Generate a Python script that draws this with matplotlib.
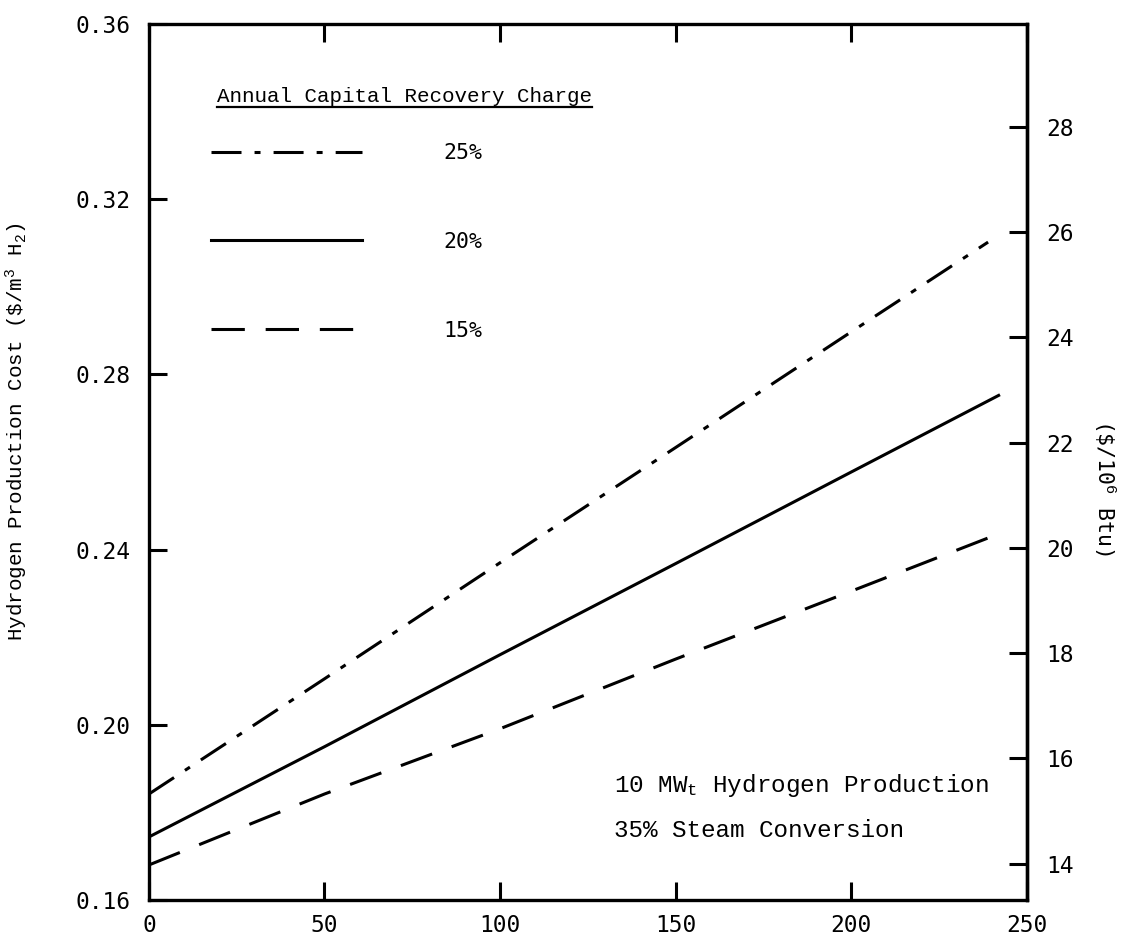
"""Hydrogen production cost vs. x for three capital recovery charges."""

import matplotlib

matplotlib.use("Agg")
import matplotlib.pyplot as plt
from matplotlib.lines import Line2D

plt.rcParams["lines.scale_dashes"] = False
plt.rcParams["mathtext.fontset"] = "custom"
plt.rcParams["mathtext.rm"] = "Liberation Mono"
plt.rcParams["mathtext.it"] = "Liberation Mono"
plt.rcParams["mathtext.default"] = "rm"

# data
x_25 = [0, 50, 100, 150, 200, 239]
cost_25 = [0.1842, 0.2105, 0.2370, 0.2633, 0.2897, 0.3102]
x_20 = [0, 50, 100, 150, 200, 242]
cost_20 = [0.1744, 0.1950, 0.2160, 0.2368, 0.2577, 0.2752]
x_15 = [0, 50, 100, 150, 200, 243]
cost_15 = [0.1680, 0.1842, 0.1991, 0.2150, 0.2305, 0.2439]

labels = ["25%", "20%", "15%"]
x_ticks = [0, 50, 100, 150, 200, 250]
left_ticks = [0.16, 0.20, 0.24, 0.28, 0.32, 0.36]
right_ticks = [14, 16, 18, 20, 22, 24, 26, 28]
M3_TO_MBTU = 83.2  # ($/10^6 Btu) per ($/m^3)

serif = "Liberation Mono"
mono = "DejaVu Sans Mono"
tick_fs = 16.5

fig = plt.figure(figsize=(11.37, 9.44), dpi=100)
ax = fig.add_axes([0.131, 0.0466, 0.772, 0.928])

ax.plot(x_25, cost_25, color="black", lw=2.2, dashes=(21.6, 9.4, 4.3, 9.4),
        dash_capstyle="butt", label=labels[0])
ax.plot(x_20, cost_20, color="black", lw=2.2, label=labels[1])
ax.plot(x_15, cost_15, color="black", lw=2.2, dashes=(24, 15),
        dash_capstyle="butt", label=labels[2])

ax.set_xlim(0, 250)
ax.set_ylim(0.16, 0.36)
ax.set_xticks(x_ticks)
ax.set_xticklabels([str(t) for t in x_ticks], family=mono, fontsize=tick_fs)
ax.set_yticks(left_ticks)
ax.set_yticklabels([f"{t:.2f}" for t in left_ticks], family=mono, fontsize=tick_fs)
ax.tick_params(axis="x", direction="in", length=13, width=2.2, top=True, pad=10)
ax.tick_params(axis="y", direction="in", length=13, width=2.2, pad=13)
for sp in ax.spines.values():
    sp.set_linewidth(2.4)

sec = ax.secondary_yaxis("right", functions=(lambda v: v * M3_TO_MBTU,
                                             lambda r: r / M3_TO_MBTU))
sec.set_yticks(right_ticks)
sec.set_yticklabels([str(t) for t in right_ticks], family=mono, fontsize=tick_fs)
sec.tick_params(direction="in", length=13, width=2.2, pad=14)
sec.spines["right"].set_linewidth(2.4)

ax.set_ylabel(r"Hydrogen Production Cost (\$/m$^3$ H$_2$)", family=serif, fontsize=15)
ax.yaxis.set_label_coords(-0.1355, 0.534)

ax.text(1.089, 0.471, r"(\$/10$^6$ Btu)", transform=ax.transAxes, family=mono,
        fontsize=15.5, rotation=270, ha="center", va="center")

# legend title drawn separately so its gap to the entries can be set
title = ax.text(0.077, 0.9167, "Annual Capital Recovery Charge", transform=ax.transAxes,
                family=serif, fontsize=15, ha="left", va="center")

leg = ax.legend(loc="upper left", bbox_to_anchor=(0.0706, 0.864), frameon=False,
                handlelength=7.0, handletextpad=3.8, labelspacing=3.2,
                borderpad=0, borderaxespad=0, fontsize=tick_fs - 1)
for t in leg.get_texts():
    t.set_fontfamily(mono)

ax.text(0.5296, 0.1233, "10 MW$_t$ Hydrogen Production", transform=ax.transAxes,
        family=serif, fontsize=17.5, ha="left", va="baseline")
ax.text(0.5296, 0.0719, "35% Steam Conversion", transform=ax.transAxes,
        family=serif, fontsize=17.5, ha="left", va="baseline")

# underline the legend title
fig.canvas.draw()
bb = title.get_window_extent().transformed(fig.transFigure.inverted())
fig.add_artist(Line2D([bb.x0, bb.x1], [bb.y0 - 0.001, bb.y0 - 0.001],
                      transform=fig.transFigure, color="black", lw=1.6))

fig.savefig("out.png", dpi=100)
